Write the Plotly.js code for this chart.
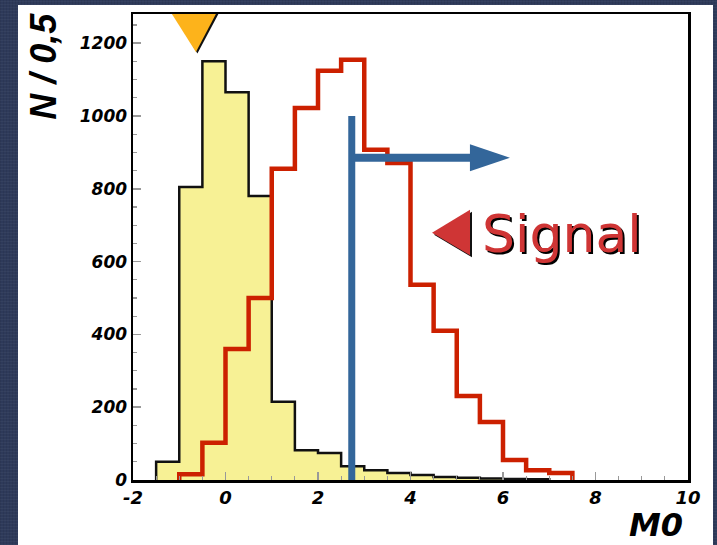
<!DOCTYPE html>
<html>
<head>
<meta charset="utf-8">
<script src="https://cdn.plot.ly/plotly-3.0.1.min.js"></script>
<style>
  html, body { margin: 0; padding: 0; width: 717px; height: 545px; overflow: hidden; }
  body {
    background-color: #2e3a5a;
    background-image:
      repeating-linear-gradient(0deg, rgba(255,255,255,0.035) 0 1px, transparent 1px 3px),
      repeating-linear-gradient(90deg, rgba(0,0,0,0.07) 0 1px, transparent 1px 3px);
  }
  #chart { position: absolute; left: 18px; top: 5px; width: 695px; height: 540px; }
</style>
</head>
<body>
<div id="chart"></div>
<script>
// ---- data (bin width 0.5) ----
const binWidth = 0.5;
const bgStart = -1.5;   // first bin lower edge of background (yellow)
const bgCounts = [50, 805, 1150, 1065, 780, 215, 82, 74, 38, 27, 19, 14, 8, 6, 4, 3, 2];
const sigStart = -1.0;  // first bin lower edge of signal (red)
const sigCounts = [16, 102, 360, 500, 855, 1022, 1124, 1154, 907, 871, 536, 410, 231, 159, 55, 27, 19];

// cut marker values
const cutValue = 2.73;
const cutTop = 1000;
const arrowLevel = 885;
const arrowTip = 6.15;
const arrowBase = 5.35;
const peakMarkerX = -0.64;
const signalMarkerX = 4.465;
const signalMarkerY = 679;
const signalLabel = "Signal";
const xTitle = "M0";
const yTitle = "N / 0,5";
const xTickVals = [-2, 0, 2, 4, 6, 8, 10];
const yTickVals = [0, 200, 400, 600, 800, 1000, 1200];

function stepPoints(start, counts) {
  const xs = [start], ys = [0];
  counts.forEach((c, i) => { xs.push(start + i * binWidth); ys.push(c); });
  const end = start + counts.length * binWidth;
  xs.push(end); ys.push(counts[counts.length - 1]);
  xs.push(end); ys.push(0);
  return {xs, ys};
}
const bg = stepPoints(bgStart, bgCounts);
const sig = stepPoints(sigStart, sigCounts);

const blue = '#33669a';

const traces = [
  {
    x: bg.xs, y: bg.ys, type: 'scatter', mode: 'lines',
    line: {shape: 'hv', color: '#111', width: 2.5},
    fill: 'tozeroy', fillcolor: '#f7f195', hoverinfo: 'skip', showlegend: false
  },
  {
    x: sig.xs, y: sig.ys, type: 'scatter', mode: 'lines',
    line: {shape: 'hv', color: '#cc2000', width: 4.5},
    hoverinfo: 'skip', showlegend: false
  }
];

const tickFontX = {family: 'DejaVu Sans', size: 18, weight: 'bold', style: 'italic', color: '#000'};
const tickFontY = {family: 'DejaVu Sans', size: 17, weight: 'bold', style: 'italic', color: '#000'};

const layout = {
  width: 695, height: 540, autosize: false,
  margin: {l: 115, r: 25, t: 9, b: 65, pad: 0},
  paper_bgcolor: '#ffffff', plot_bgcolor: '#ffffff',
  showlegend: false,
  xaxis: {
    range: [-2, 10], tickmode: 'array', tickvals: xTickVals, ticktext: xTickVals.map(String),
    ticks: 'inside', ticklen: 8, tickwidth: 1.5, tickcolor: '#999',
    minor: {dtick: 0.5, tick0: 0, ticks: 'inside', ticklen: 4, tickwidth: 1.2, tickcolor: '#999', showgrid: false},
    showline: true, linecolor: '#000', linewidth: 2.5, mirror: true,
    showgrid: false, zeroline: false, tickfont: tickFontX, fixedrange: true
  },
  yaxis: {
    range: [0, 1280], tickmode: 'array', tickvals: yTickVals, ticktext: yTickVals.map(String),
    ticks: 'inside', ticklen: 8, tickwidth: 1.5, tickcolor: '#999',
    minor: {dtick: 50, tick0: 0, ticks: 'inside', ticklen: 4, tickwidth: 1.2, tickcolor: '#999', showgrid: false},
    showline: true, linecolor: '#000', linewidth: 2.5, mirror: true,
    showgrid: false, zeroline: false, tickfont: tickFontY, fixedrange: true
  },
  shapes: [
    // cut line
    {type: 'line', xref: 'x', yref: 'y', x0: cutValue, x1: cutValue, y0: 0, y1: cutTop,
     line: {color: blue, width: 7}},
    {type: 'line', xref: 'x', yref: 'y', x0: cutValue, x1: arrowBase, y0: arrowLevel, y1: arrowLevel,
     line: {color: blue, width: 8}},
    {type: 'path', xref: 'x', yref: 'y', xsizemode: 'pixel', ysizemode: 'pixel',
     xanchor: arrowTip, yanchor: arrowLevel, path: 'M0,0 L-40,13.5 L-40,-13.5 Z',
     fillcolor: blue, line: {width: 0}},
    // peak marker (orange, with dark shadow)
    {type: 'path', xref: 'x', yref: 'y', xsizemode: 'pixel', ysizemode: 'pixel',
     xanchor: peakMarkerX, yanchor: 1280, path: 'M-22,0 L22.5,0 L1.5,-39.5 Z',
     fillcolor: '#111', line: {width: 0}},
    {type: 'path', xref: 'x', yref: 'y', xsizemode: 'pixel', ysizemode: 'pixel',
     xanchor: peakMarkerX, yanchor: 1280, path: 'M-24,0 L20,0 L0,-38 Z',
     fillcolor: '#fdb31b', line: {width: 0}},
    // signal marker (red, with dark shadow)
    {type: 'path', xref: 'x', yref: 'y', xsizemode: 'pixel', ysizemode: 'pixel',
     xanchor: signalMarkerX, yanchor: signalMarkerY, path: 'M2,-2 L40,21 L40,-24.5 Z',
     fillcolor: '#111', line: {width: 0}},
    {type: 'path', xref: 'x', yref: 'y', xsizemode: 'pixel', ysizemode: 'pixel',
     xanchor: signalMarkerX, yanchor: signalMarkerY, path: 'M0,0 L38,23 L38,-22.5 Z',
     fillcolor: '#cf3535', line: {width: 0}}
  ],
  annotations: [
    {text: signalLabel, xref: 'x', yref: 'y', x: 5.5, y: 676, xanchor: 'left', yanchor: 'middle',
     showarrow: false,
     font: {family: 'DejaVu Sans', size: 52, color: '#cf3535', shadow: '2px 2px 0px #000'}},
    {text: yTitle, xref: 'paper', yref: 'paper', x: -0.161, y: 0.888, xanchor: 'center', yanchor: 'middle',
     textangle: -90, showarrow: false,
     font: {family: 'Liberation Sans', size: 36, weight: 'bold', style: 'italic', color: '#000'}},
    {text: xTitle, xref: 'paper', yref: 'paper', x: 0.995, y: -0.097, xanchor: 'right', yanchor: 'middle',
     showarrow: false,
     font: {family: 'DejaVu Sans', size: 32, weight: 'bold', style: 'italic', color: '#000'}}
  ]
};

Plotly.newPlot('chart', traces, layout, {displayModeBar: false, staticPlot: true});
</script>
</body>
</html>
